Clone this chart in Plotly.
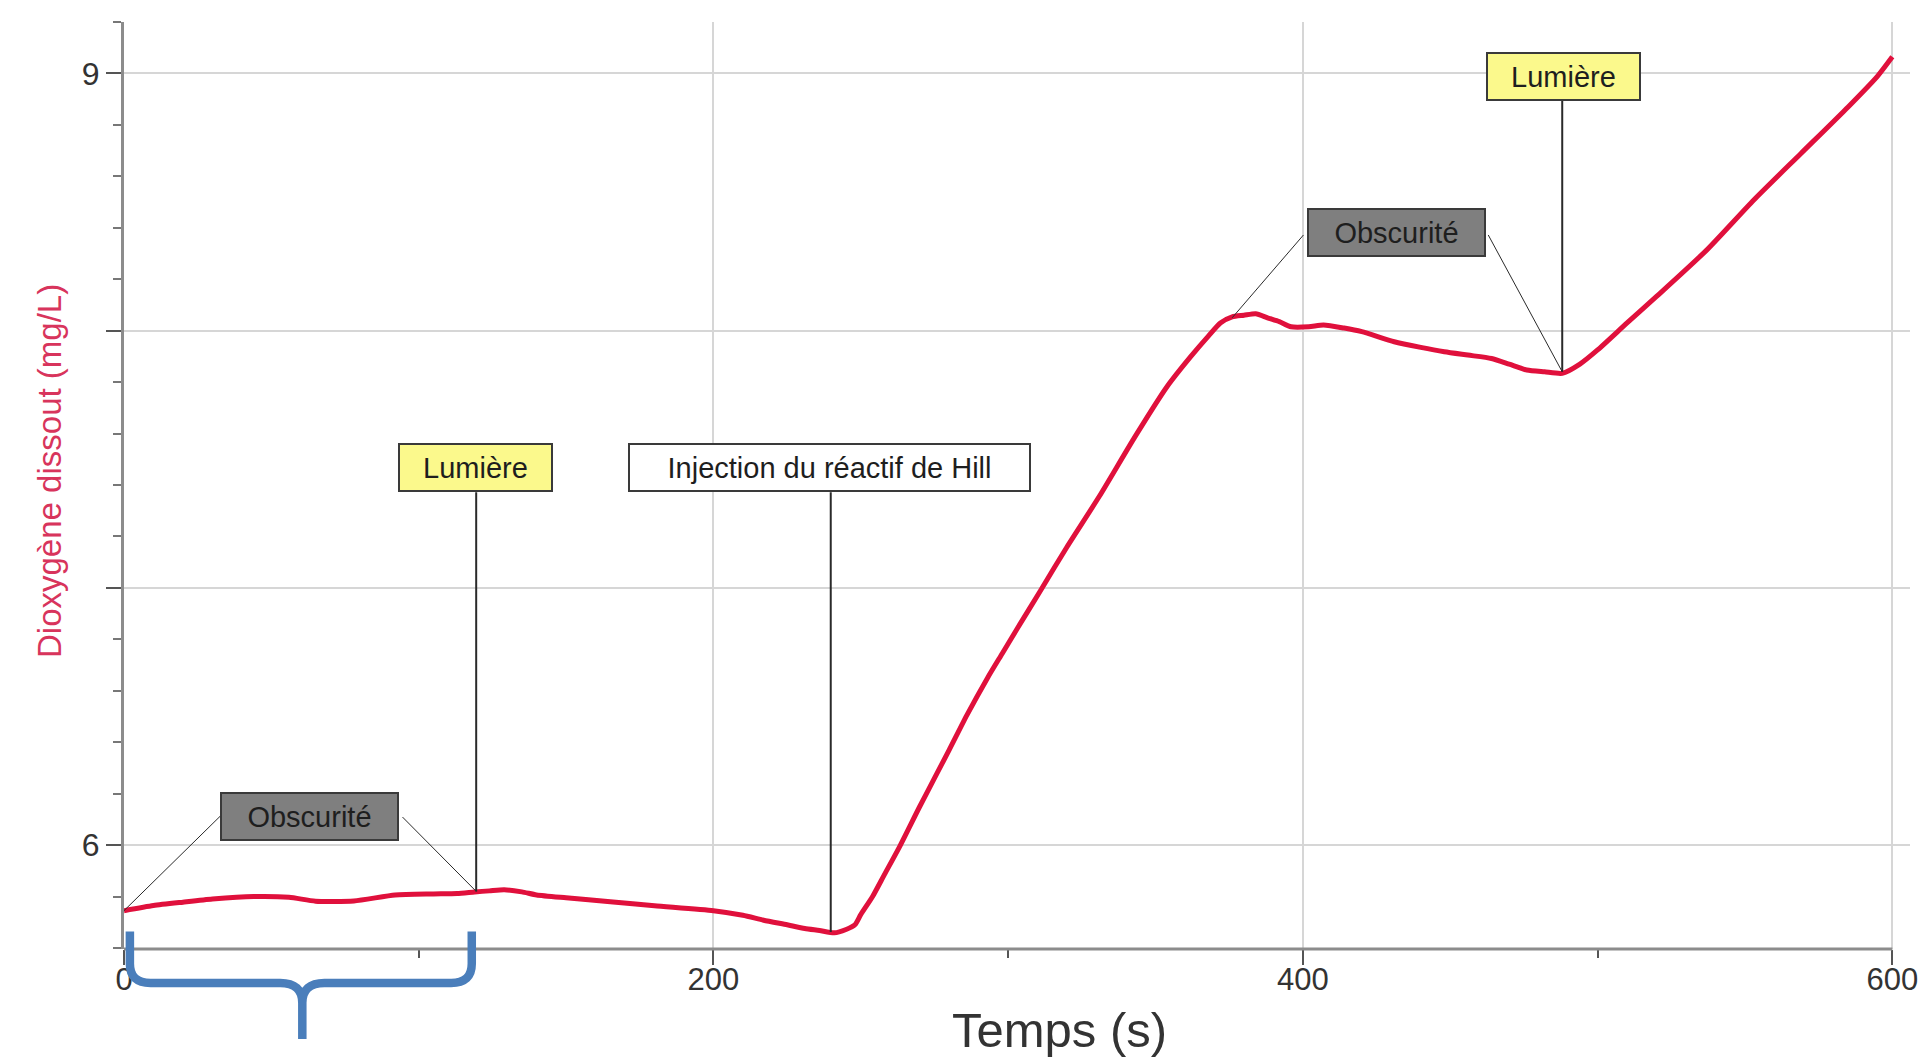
import plotly.graph_objects as go

# ---- data ----
temps = [0, 10, 20, 30, 44, 56, 65, 78, 92, 105, 113, 119, 124, 129, 135, 140, 150, 165, 180,
         200, 210, 217, 225, 231, 236, 241, 245, 248, 250, 254, 258, 263, 270, 275, 280, 286,
         293, 298, 303, 311, 320, 331, 343, 354, 362, 368, 372, 376, 380, 384, 388, 392, 396,
         402, 407, 414, 420, 431, 440, 448, 456, 464, 470, 476, 482, 488, 494, 500, 510, 520,
         537, 553, 569, 585, 595, 600]
dioxygene = [5.745, 5.765, 5.778, 5.790, 5.800, 5.797, 5.782, 5.783, 5.806, 5.810, 5.812, 5.818,
             5.822, 5.826, 5.818, 5.806, 5.795, 5.780, 5.764, 5.745, 5.727, 5.708, 5.690, 5.676,
             5.668, 5.659, 5.672, 5.690, 5.730, 5.800, 5.885, 5.990, 6.150, 6.260, 6.370, 6.505,
             6.650, 6.745, 6.840, 6.990, 7.160, 7.357, 7.587, 7.784, 7.900, 7.980, 8.030, 8.054,
             8.060, 8.066, 8.050, 8.035, 8.015, 8.015, 8.022, 8.010, 7.996, 7.957, 7.935, 7.918,
             7.905, 7.892, 7.870, 7.847, 7.840, 7.834, 7.870, 7.925, 8.030, 8.133, 8.313, 8.508,
             8.689, 8.870, 8.990, 9.065]

x_tickvals = [0, 200, 400, 600]
x_ticktext = ["0", "200", "400", "600"]
y_tickvals = [6, 7, 8, 9]
y_ticktext = ["6", "", "", "9"]

# annotation labels: text, box centre (t, value), style
labels = ["Obscurité", "Lumière", "Injection du réactif de Hill", "Obscurité", "Lumière"]
label_x = [63, 119.4, 239.5, 431.6, 488.4]
label_y = [6.113, 7.468, 7.468, 8.381, 8.99]
label_bg = ["#7f7f7f", "#fbf98c", "#ffffff", "#7f7f7f", "#fbf98c"]
label_w = [175, 151, 399, 175, 151]

# leader lines: (x0, y0) -> (x1, y1)
leader_x0 = [32.7, 94.5, 119.5, 239.8, 400.2, 462.9, 488.0]
leader_y0 = [6.113, 6.109, 7.372, 7.372, 8.372, 8.372, 8.893]
leader_x1 = [0.0, 119.5, 119.5, 239.8, 376.0, 488.0, 488.0]
leader_y1 = [5.745, 5.82, 5.82, 5.662, 8.05, 7.84, 7.84]
leader_w = [1, 1, 2, 2, 1, 1, 2]

CURVE = "#e0103c"
FONT = "Liberation Sans Narrow, Arial Narrow, Liberation Sans, Arial, sans-serif"
FONT_BOX = "Liberation Sans, Arial, sans-serif"

W, H = 1920, 1058
L, R, T, B = 124, 10, 22, 109
pw, ph = W - L - R, H - T - B


def px_to_paper(xp, yp):
    return (xp - L) / pw, (H - B - yp) / ph


fig = go.Figure()
fig.add_trace(go.Scatter(x=temps, y=dioxygene, mode="lines",
                         line=dict(color=CURVE, width=5, shape="spline", smoothing=0.6),
                         showlegend=False, hoverinfo="x+y"))

for i in range(len(leader_x0)):
    fig.add_shape(type="line", xref="x", yref="y",
                  x0=leader_x0[i], y0=leader_y0[i], x1=leader_x1[i], y1=leader_y1[i],
                  line=dict(color="#2a2a2a", width=leader_w[i]), layer="above")

for i in range(len(labels)):
    fig.add_annotation(x=label_x[i], y=label_y[i], xref="x", yref="y",
                       text=labels[i], showarrow=False, xanchor="center", yanchor="middle",
                       bgcolor=label_bg[i], bordercolor="#3a3a3a", borderwidth=2, borderpad=0,
                       width=label_w[i], height=45,
                       font=dict(family=FONT_BOX, size=29, color="#1e1e1e"))

# x axis line only up to 600 s (gridlines run a little further)
fig.add_shape(type="line", xref="x", yref="paper", x0=0, x1=600, y0=0, y1=0,
              line=dict(color="#8c8c8c", width=3), layer="above")

# blue curly bracket under 0-120 s
bracket = ("M 2,0.019 L 2,-0.016 Q 2,-0.0367 9,-0.0367 L 53,-0.0367 "
           "Q 60.5,-0.0367 60.5,-0.058 L 60.5,-0.097 "
           "M 60.5,-0.058 Q 60.5,-0.0367 68,-0.0367 L 111,-0.0367 "
           "Q 118,-0.0367 118,-0.016 L 118,0.019")
fig.add_shape(type="path", xref="x", yref="paper", path=bracket,
              line=dict(color="#4a7ebb", width=8.5), layer="above")

# axis titles as annotations
tx, ty = px_to_paper(1059, 1030)
fig.add_annotation(x=tx, y=ty, xref="paper", yref="paper", text="Temps (s)",
                   xanchor="center", yanchor="middle", showarrow=False,
                   font=dict(family=FONT, size=49, color="#333333"))
yx, yy = px_to_paper(49, 471)
fig.add_annotation(x=yx, y=yy, xref="paper", yref="paper", text="Dioxygène dissout (mg/L)",
                   xanchor="center", yanchor="middle", showarrow=False, textangle=-90,
                   font=dict(family=FONT, size=33, color="#d8345c"))

fig.update_layout(
    width=W, height=H,
    margin=dict(l=L, r=R, t=T, b=B, pad=0, autoexpand=False),
    paper_bgcolor="white", plot_bgcolor="white",
    xaxis=dict(range=[0, 606], tickvals=x_tickvals, ticktext=x_ticktext,
               automargin=False,
               showgrid=True, gridcolor="#d6d6d6", gridwidth=2,
               showline=False,
               ticks="outside", ticklen=15, tickwidth=2, tickcolor="#555555",
               ticklabelstandoff=-12, ticklabeloverflow="allow",
               minor=dict(dtick=100, tick0=0, ticks="outside", ticklen=8,
                          tickwidth=2, tickcolor="#555555", showgrid=False),
               tickfont=dict(family=FONT, size=31, color="#333333"),
               zeroline=False),
    yaxis=dict(range=[5.596, 9.2], tickvals=y_tickvals, ticktext=y_ticktext,
               automargin=False,
               showgrid=True, gridcolor="#d6d6d6", gridwidth=2,
               showline=True, linecolor="#8c8c8c", linewidth=3,
               ticks="outside", ticklen=15, tickwidth=2, tickcolor="#555555",
               minor=dict(dtick=0.2, tick0=6, ticks="outside", ticklen=8,
                          tickwidth=2, tickcolor="#777777", showgrid=False),
               tickfont=dict(family=FONT, size=32, color="#333333"),
               zeroline=False),
    showlegend=False,
)

fig.write_html("out.html", config={"displayModeBar": False},
               post_script="document.body.style.margin='0';document.body.style.overflow='hidden';")
